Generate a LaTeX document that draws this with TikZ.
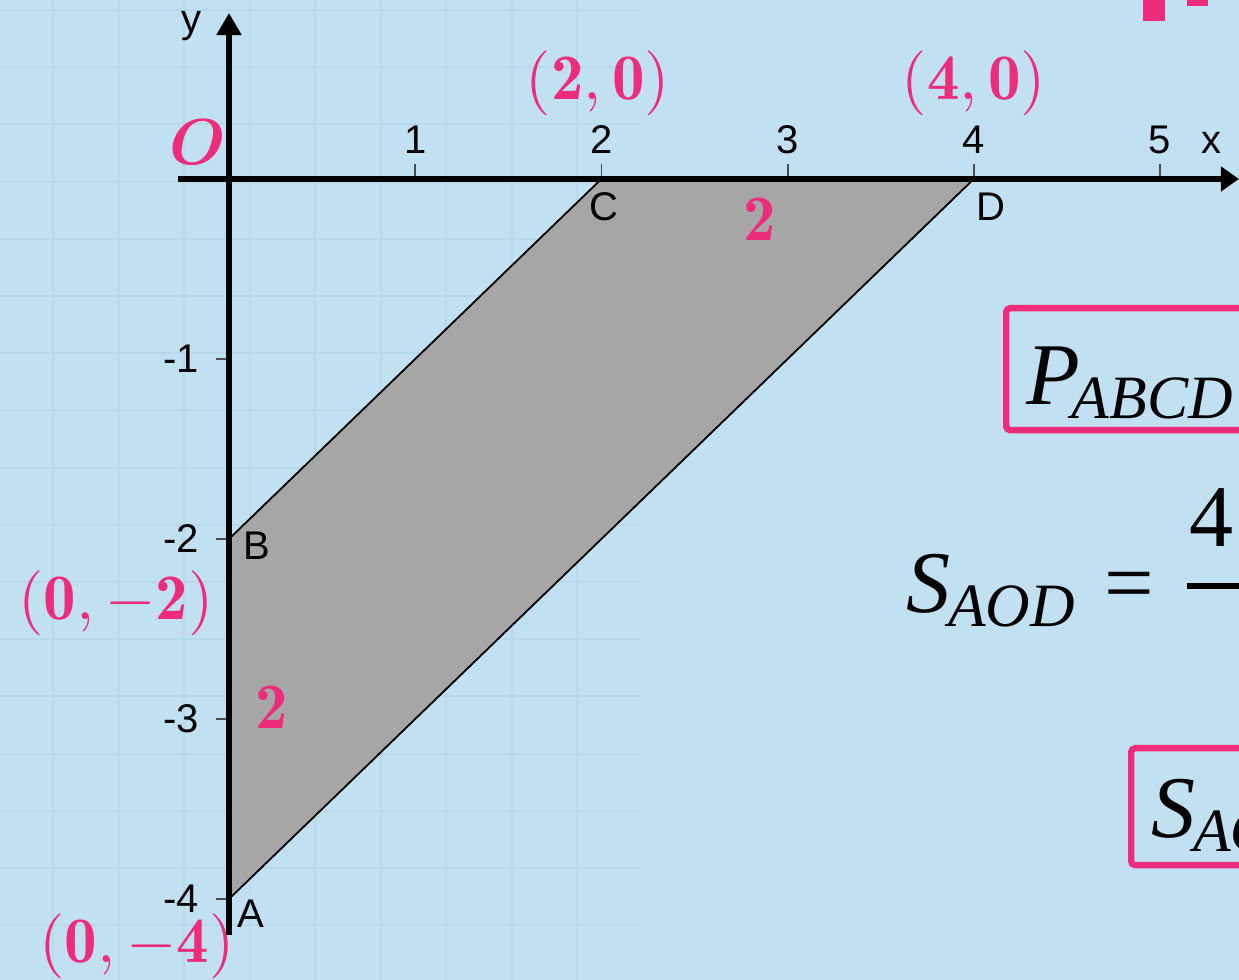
\documentclass[tikz,border=0pt]{standalone}
\usepackage{amsmath,bm}
\usepackage{fontspec}
\newfontfamily\axisfont{Liberation Sans}
\newfontfamily\eqfont{Liberation Serif}
\usetikzlibrary{positioning, arrows.meta, calc}

\definecolor{bgblue}{RGB}{193,224,241}
\definecolor{gridblue}{RGB}{183,216,235}
\definecolor{hotpink}{RGB}{237,45,124}
\definecolor{shadegray}{RGB}{166,166,166}

\begin{document}
\begin{tikzpicture}[x=0.25pt, y=-0.25pt,
  axis/.style={line width=1.3pt, black},
  tickmark/.style={line width=0.45pt, black!70},
  gridln/.style={gridblue, line width=0.5pt},
  axlbl/.style={font=\axisfont\fontsize{10}{12}\selectfont, text=black, inner sep=0pt},
  pinklbl/.style={font=\fontsize{10}{12}\selectfont, scale=1.625, text=hotpink, inner sep=0pt},
  eqn/.style={font=\eqfont\itshape\fontsize{10}{12}\selectfont, scale=2.2, inner sep=0pt},
  equp/.style={font=\eqfont\fontsize{10}{12}\selectfont, scale=2.2, inner sep=0pt},
  resbox/.style={draw=hotpink, line width=1.6pt, rounded corners=1pt, inner sep=0pt},
]

% Background with faint grid
\useasboundingbox (0,0) rectangle (1239,980);
\fill[bgblue] (0,0) rectangle (1239,980);
\clip (0,0) rectangle (1239,980);
\foreach \gx in {53,118.5,...,640} \draw[gridln] (\gx,0) -- (\gx,980);
\foreach \gy in {10,67.2,...,980} \draw[gridln] (0,\gy) -- (640,\gy);

% Coordinate plane
\begin{scope}[shift={(229,179)}, x=46.55pt, y=45pt]
  \coordinate (O) at (0,0);
  \coordinate (A) at (0,-4);
  \coordinate (B) at (0,-2);
  \coordinate (C) at (2,0);
  \coordinate (D) at (4,0);

  % Shaded quadrilateral
  \filldraw[fill=shadegray, draw=black, line width=0.45pt] (A) -- (B) -- (C) -- (D) -- cycle;

  % Ticks
  \foreach \t in {1,...,5}
    \draw[tickmark] (\t,0) -- (\t,0.085) node[axlbl, above=2.2pt] (xt\t) {\t};
  \foreach \t in {1,...,4}
    \draw[tickmark] (0,-\t) -- (-0.07,-\t) node[axlbl, left=4pt] (yt\t) {-\t};

  % Axes
  \coordinate (xs) at (-0.274,0);
  \coordinate (xe) at (5.424,0);
  \coordinate (ys) at (0,-4.2);
  \coordinate (ye) at (0,0.922);
  \draw[axis, -{Triangle[length=4.5pt, width=6pt]}] (xs) -- (xe);
  \draw[axis, -{Triangle[length=5.5pt, width=6pt]}] (ys) -- (ye);
\end{scope}

% Axis and vertex letters
\node[axlbl] (lx) at (1211,143) {x};
\node[axlbl] (ly) at (191,26) {y};
\node[axlbl] (lA) at (251,914) {A};
\node[axlbl] (lB) at (257,546) {B};
\node[axlbl] (lC) at (604,207) {C};
\node[axlbl] (lD) at (991,207) {D};

% Pink annotations
\node[pinklbl] (pO) at (198,142) {$\bm{O}$};
\node[pinklbl] (pC) at (598,83) {$(\mathbf{2}, \mathbf{0})$};
\node[pinklbl] (pD) at (974,83) {$(\mathbf{4}, \mathbf{0})$};
\node[pinklbl] (pCD) at (760,219) {$\mathbf{2}$};
\node[pinklbl] (pB) at (116,603) {$(\mathbf{0}, -\mathbf{2})$};
\node[pinklbl] (pAB) at (272,707) {$\mathbf{2}$};
\node[pinklbl] (pA) at (137,946) {$(\mathbf{0}, -\mathbf{4})$};

% Right side formulas
\fill[hotpink] (1143,0) rectangle (1165,21);
\fill[hotpink] (1187,0) rectangle (1208,6);

\node[resbox, anchor=north west, minimum width=80pt, minimum height=30.5pt] (boxP) at (1003,305) {};
\node[eqn, anchor=base west] (tP) at (1025,405) {P\kern-0.1em\textsubscript{ABCD}};

\node[eqn, anchor=base west] (tSAOD) at (905,613) {S\kern-0.03em\textsubscript{AOD}};
\node[equp, anchor=base west] (eqs) at (1103,613) {=};
\node[equp, anchor=base] (num) at (1211,547) {4};
\coordinate (barL) at (1187,586);
\draw[line width=1.3pt] (barL) -- ++(80,0);

\node[resbox, anchor=north west, minimum width=60pt, minimum height=29.25pt] (boxS) at (1128,745) {};
\node[eqn, anchor=base west] (tS) at (1150,838) {S\kern-0.03em\textsubscript{AOD}};

\end{tikzpicture}
\end{document}
